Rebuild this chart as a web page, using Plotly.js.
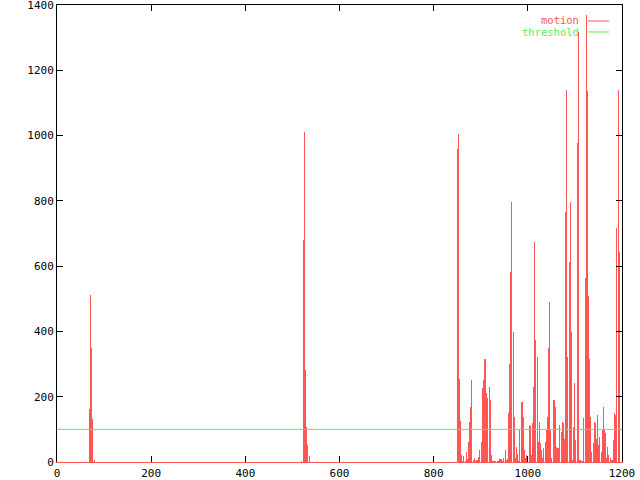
<!DOCTYPE html>
<html>
<head>
<meta charset="utf-8">
<script src="https://cdn.plot.ly/plotly-3.0.1.min.js"></script>
<style>html,body{margin:0;padding:0;background:#fff;}#chart{width:640px;height:480px;}</style>
</head>
<body>
<div id="chart"></div>
<script>
// Frame numbers with non-zero motion (all other frames are 0)
const motionFrames = [
  70, 72, 74, 76, 79,
  520, 523, 525, 527, 529, 531, 533, 537,
  850, 852, 854, 856, 858, 860, 862, 864, 867, 869, 871, 873, 875, 877, 879, 881, 884, 886, 888, 890,
  892, 894, 896, 898, 901, 903, 905, 907, 909, 911, 913, 915, 918, 920, 922, 924, 926, 928, 930, 932,
  935, 937, 939, 941, 943, 945, 947, 949, 952, 954, 956, 958, 960, 962, 964, 966, 969, 971, 973, 975,
  977, 979, 981, 983, 986, 988, 990, 992, 994, 996, 998, 1000, 1003, 1005, 1007, 1009, 1011, 1013, 1015, 1017,
  1020, 1022, 1024, 1026, 1028, 1030, 1032, 1034, 1037, 1039, 1041, 1043, 1045, 1047, 1049, 1051,
  1054, 1056, 1058, 1060, 1062, 1064, 1066, 1068, 1071, 1073, 1075, 1077, 1079, 1081, 1083, 1085,
  1088, 1090, 1092, 1094, 1096, 1098, 1100, 1102, 1105, 1107, 1109, 1111, 1113, 1115, 1117, 1119,
  1122, 1124, 1126, 1128, 1130, 1132, 1134, 1136, 1139, 1141, 1143, 1145, 1147, 1149, 1151, 1153,
  1156, 1158, 1160, 1162, 1164, 1166, 1168, 1170, 1172, 1175, 1177, 1179, 1181, 1183, 1185, 1187,
  1189, 1192, 1194
];
const motionValues = [
  162, 511, 348, 132, 6,
  4, 680, 1011, 282, 108, 52, 18, 18,
  960, 1005, 254, 126, 18, 21, 3, 18, 3, 32, 8, 47, 60, 124, 167, 250, 5, 13, 3, 5,
  5, 5, 16, 37, 62, 226, 251, 297, 315, 195, 210, 195, 231, 190, 21, 4, 4, 4, 4, 4,
  4, 4, 8, 4, 8, 8, 4, 11, 37, 6, 8, 60, 149, 299, 583, 797, 399, 139, 11, 47,
  26, 6, 4, 98, 185, 185, 139, 37, 11, 4, 21, 4, 113, 110, 21, 62, 118, 231, 675, 374,
  323, 62, 123, 57, 37, 35, 11, 42, 62, 98, 139, 348, 491, 287, 98, 11,
  190, 190, 170, 47, 42, 5, 42, 113, 93, 123, 120, 70, 312, 767, 1141, 323,
  614, 797, 399, 6, 32, 108, 241, 67, 978, 1318, 6, 6, 4, 4, 4, 134,
  563, 1369, 1137, 508, 317, 139, 62, 32, 57, 123, 120, 72, 144, 32, 52, 78,
  32, 98, 169, 98, 88, 11, 5, 47, 21, 11, 6, 5, 4, 67, 149, 144,
  716, 1141, 644
];
const thresholdFrames = [0, 1200];
const thresholdValues = [100, 100];
const xTicks = [0, 200, 400, 600, 800, 1000, 1200];
const yTicks = [0, 200, 400, 600, 800, 1000, 1200, 1400];

const RED = '#ff5555';
const GREEN = '#55ee55';
const FAMILY = 'DejaVu Sans Mono, Liberation Mono, monospace';
const FONT = {family: FAMILY, size: 11, color: '#000'};

const traces = [
  {
    type: 'bar', x: motionFrames, y: motionValues, width: 2.2,
    marker: {color: RED, line: {width: 0}}, name: 'motion', showlegend: false, hoverinfo: 'x+y'
  },
  {
    type: 'scatter', mode: 'lines', x: thresholdFrames, y: thresholdValues, xaxis: 'x2',
    line: {color: GREEN, width: 1}, name: 'threshold', showlegend: false
  }
];

const layout = {
  width: 640, height: 480,
  margin: {l: 57, r: 18, t: 5, b: 18, pad: 0},
  paper_bgcolor: '#fff', plot_bgcolor: '#fff',
  font: FONT,
  bargap: 0, bargroupgap: 0,
  showlegend: false,
  xaxis: {
    range: [0, 1200], tickvals: xTicks, ticktext: xTicks.map(String),
    ticks: 'inside', ticklen: 6, tickcolor: '#000', tickwidth: 1, ticklabelstandoff: 1,
    ticklabeloverflow: 'allow',
    showline: true, linecolor: RED, linewidth: 1, mirror: false,
    showgrid: false, zeroline: false, tickfont: FONT, fixedrange: true
  },
  xaxis2: {
    overlaying: 'x', matches: 'x', side: 'top', range: [0, 1200], tickvals: xTicks,
    ticks: 'inside', ticklen: 6, tickcolor: '#000', showticklabels: false,
    showline: true, linecolor: '#000', linewidth: 1,
    showgrid: false, zeroline: false
  },
  yaxis: {
    range: [0, 1400], tickvals: yTicks, ticktext: yTicks.map(String),
    ticks: 'inside', ticklen: 6, tickcolor: '#000', tickwidth: 1,
    ticklabeloverflow: 'allow',
    showline: true, linecolor: '#000', linewidth: 1, mirror: 'ticks',
    showgrid: false, zeroline: false, tickfont: FONT, fixedrange: true
  },
  annotations: [
    {xref: 'paper', yref: 'paper', x: 0.9257, y: 0.968, xanchor: 'right', yanchor: 'middle',
     text: 'motion', showarrow: false, borderpad: 0, font: {family: FAMILY, size: 10.5, color: RED}},
    {xref: 'paper', yref: 'paper', x: 0.9257, y: 0.941, xanchor: 'right', yanchor: 'middle',
     text: 'threshold', showarrow: false, borderpad: 0, font: {family: FAMILY, size: 10.5, color: GREEN}}
  ],
  shapes: [
    {type: 'line', xref: 'paper', yref: 'paper', x0: 0.9398, x1: 0.977, y0: 0.965, y1: 0.965,
     line: {color: RED, width: 1}},
    {type: 'line', xref: 'paper', yref: 'paper', x0: 0.9398, x1: 0.977, y0: 0.941, y1: 0.941,
     line: {color: GREEN, width: 1}}
  ]
};

Plotly.newPlot('chart', traces, layout, {staticPlot: true, displayModeBar: false});
</script>
</body>
</html>
